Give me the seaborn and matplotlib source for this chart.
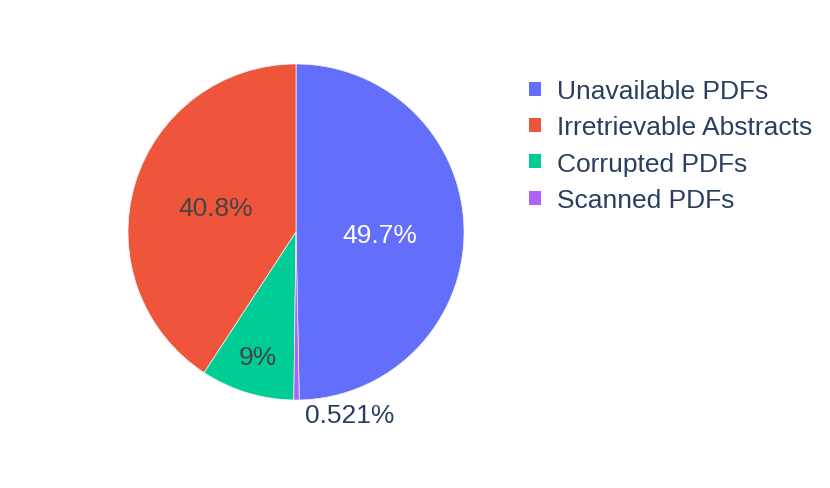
import numpy as np
import matplotlib
matplotlib.use("Agg")
import matplotlib.pyplot as plt
import seaborn as sns

categories = ["Unavailable PDFs", "Irretrievable Abstracts", "Corrupted PDFs", "Scanned PDFs"]
shares = [49.7, 40.8, 9.0, 0.521]
colors = ["#636EFA", "#EF553B", "#00CC96", "#AB63FA"]
inside_text_colors = ["white", "#444444", "#444444", "#2a3f5f"]

sns.set_theme(style="white")
plt.rcParams["font.family"] = ["Liberation Sans", "DejaVu Sans"]

W, H = 830, 489
fig = plt.figure(figsize=(W / 100, H / 100), dpi=100)
cx, cy, r = 296, 233, 168
ax = fig.add_axes([(cx - r) / W, (H - cy - r) / H, 2 * r / W, 2 * r / H])

fs = 19
start = 90 - 360 * shares[0] / sum(shares)
wedges, texts, autotexts = ax.pie(
    shares, colors=colors, startangle=start, counterclock=True,
    autopct=lambda p: f"{p:.3g}%", pctdistance=0.5,
    wedgeprops=dict(linewidth=0.5, edgecolor="#f4f4f4"),
    textprops=dict(fontsize=fs),
)
ax.set_xlim(-1, 1)
ax.set_ylim(-1, 1)
ax.set_aspect("equal")

for i, (w, t) in enumerate(zip(wedges, autotexts)):
    t.set_color(inside_text_colors[i])
    th = np.deg2rad((w.theta1 + w.theta2) / 2)
    if i == 0:
        t.set_position((0.5 * np.cos(th), 0.5 * np.sin(th) - 0.02))
    elif i == 2:
        t.set_position((0.78 * np.cos(th), 0.78 * np.sin(th)))
    elif i == 3:
        t.set_position((1.09 * np.cos(th) + 0.05, 1.09 * np.sin(th)))
        t.set_ha("left")
        t.set_va("center")

leg = fig.legend(
    wedges, categories, loc="upper left", bbox_to_anchor=(529 / W, 1 - 80 / H),
    frameon=False, fontsize=fs, handlelength=0.45, handleheight=0.45,
    handletextpad=0.6, labelspacing=0.47, borderpad=0, borderaxespad=0,
)
for t in leg.get_texts():
    t.set_color("#2a3f5f")
for h in leg.legend_handles:
    h.set_linewidth(0)

fig.savefig("out.png", dpi=100)
